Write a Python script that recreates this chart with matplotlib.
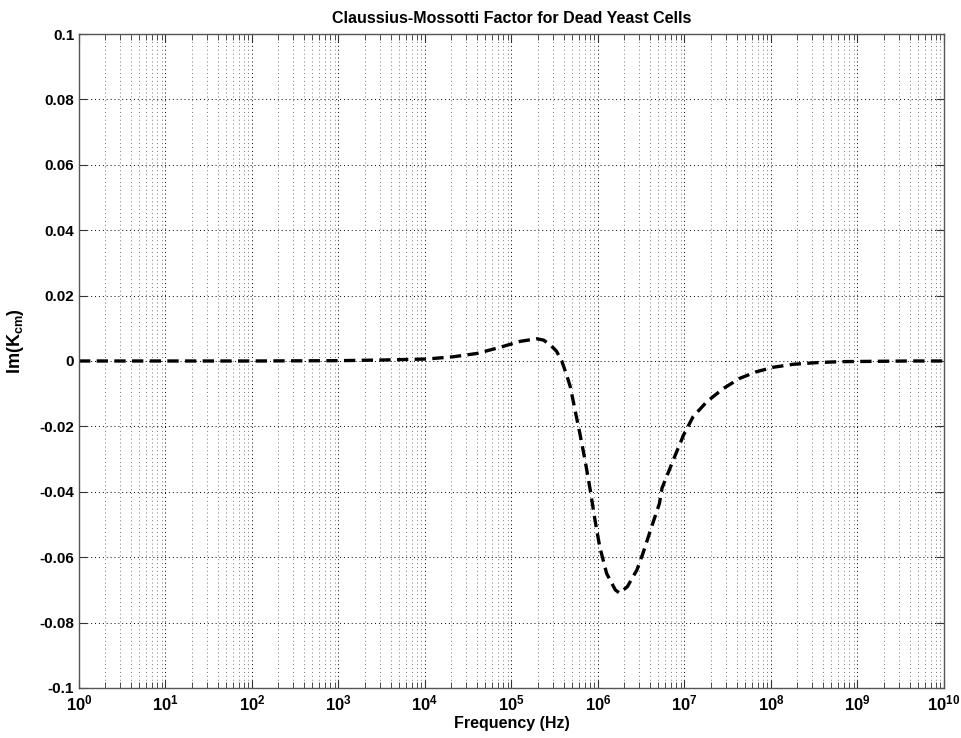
import matplotlib
matplotlib.use('Agg')
import matplotlib.pyplot as plt
from matplotlib.ticker import LogLocator, FixedLocator, NullFormatter

# data (log10 of frequency, Im(Kcm))
log_freq = [0.0, 1.0, 2.0, 3.0, 3.5, 4.02, 4.33, 4.60, 4.87, 5.10, 5.29,
            5.37, 5.45, 5.52, 5.58, 5.64, 5.68, 5.75, 5.79, 5.85, 5.91,
            5.965, 6.02, 6.10, 6.20, 6.25, 6.34, 6.45, 6.52, 6.62, 6.71,
            6.74, 6.87, 6.99, 7.10, 7.26, 7.45, 7.64, 7.83, 8.03, 8.26,
            8.53, 8.80, 9.2, 9.6, 10.0]
im_kcm = [0.0, 0.0, 0.0, 0.0001, 0.0003, 0.0006, 0.0013, 0.0023, 0.0042,
          0.0060, 0.0068, 0.0064, 0.0049, 0.0030, 0.0001, -0.0045, -0.0079,
          -0.0170, -0.0221, -0.0303, -0.0394, -0.0486, -0.0568, -0.0650,
          -0.0700, -0.0710, -0.0690, -0.0639, -0.0588, -0.0507, -0.0436,
          -0.0389, -0.0303, -0.0226, -0.0170, -0.0124, -0.0084, -0.0053,
          -0.0033, -0.0019, -0.0010, -0.0005, -0.0002, -0.0001, 0.0, 0.0]
freq = [10 ** v for v in log_freq]

y_ticks = [-0.1, -0.08, -0.06, -0.04, -0.02, 0, 0.02, 0.04, 0.06, 0.08, 0.1]
y_labels = ['-0.1', '-0.08', '-0.06', '-0.04', '-0.02', '0',
            '0.02', '0.04', '0.06', '0.08', '0.1']
x_decades = list(range(0, 11))

plt.rcParams['font.family'] = 'Liberation Sans'
plt.rcParams['font.weight'] = 'bold'
plt.rcParams['mathtext.fontset'] = 'custom'
plt.rcParams['mathtext.rm'] = 'Liberation Sans:bold'
plt.rcParams['mathtext.bf'] = 'Liberation Sans:bold'
plt.rcParams['mathtext.it'] = 'Liberation Sans:bold'

fig = plt.figure(figsize=(9.61, 7.38), dpi=100)
ax = fig.add_axes([0.0822, 0.0678, 0.9001, 0.8861])

ax.plot(freq, im_kcm, color='black', lw=2.4, dashes=(3.4, 1.9))

ax.set_xscale('log')
ax.set_xlim(1, 1e10)
ax.set_ylim(-0.1, 0.1)

ax.xaxis.set_major_locator(FixedLocator([10 ** d for d in x_decades]))
ax.set_xticklabels([r'$\mathbf{10^{%d}}$' % d for d in x_decades])
ax.xaxis.set_minor_locator(LogLocator(base=10, subs=range(2, 10), numticks=100))
ax.xaxis.set_minor_formatter(NullFormatter())
ax.set_yticks(y_ticks)
ax.set_yticklabels(y_labels)

ax.tick_params(which='both', direction='in', top=True, right=True,
               labelsize=11, color='#333333')
ax.tick_params(which='major', length=6)
ax.tick_params(which='minor', length=4)
ax.tick_params(axis='x', pad=4, labelsize=12)

ax.grid(True, which='major', color='black', lw=0.7, linestyle=(0, (1, 3)))
ax.grid(True, which='minor', axis='x', color='#777777', lw=0.7,
        linestyle=(0, (1, 3)))

for s in ax.spines.values():
    s.set_color('#555555')
    s.set_linewidth(1.0)

ax.set_title('Claussius-Mossotti Factor for Dead Yeast Cells',
             fontsize=11.5, fontweight='bold', pad=8)
ax.set_xlabel('Frequency (Hz)', fontsize=11.5, fontweight='bold', labelpad=2)
ax.set_ylabel(r'Im(K$_{\mathbf{cm}}$)', fontsize=13, fontweight='bold')
ax.yaxis.set_label_coords(-0.061, 0.53)

fig.savefig('out.png', dpi=100)
